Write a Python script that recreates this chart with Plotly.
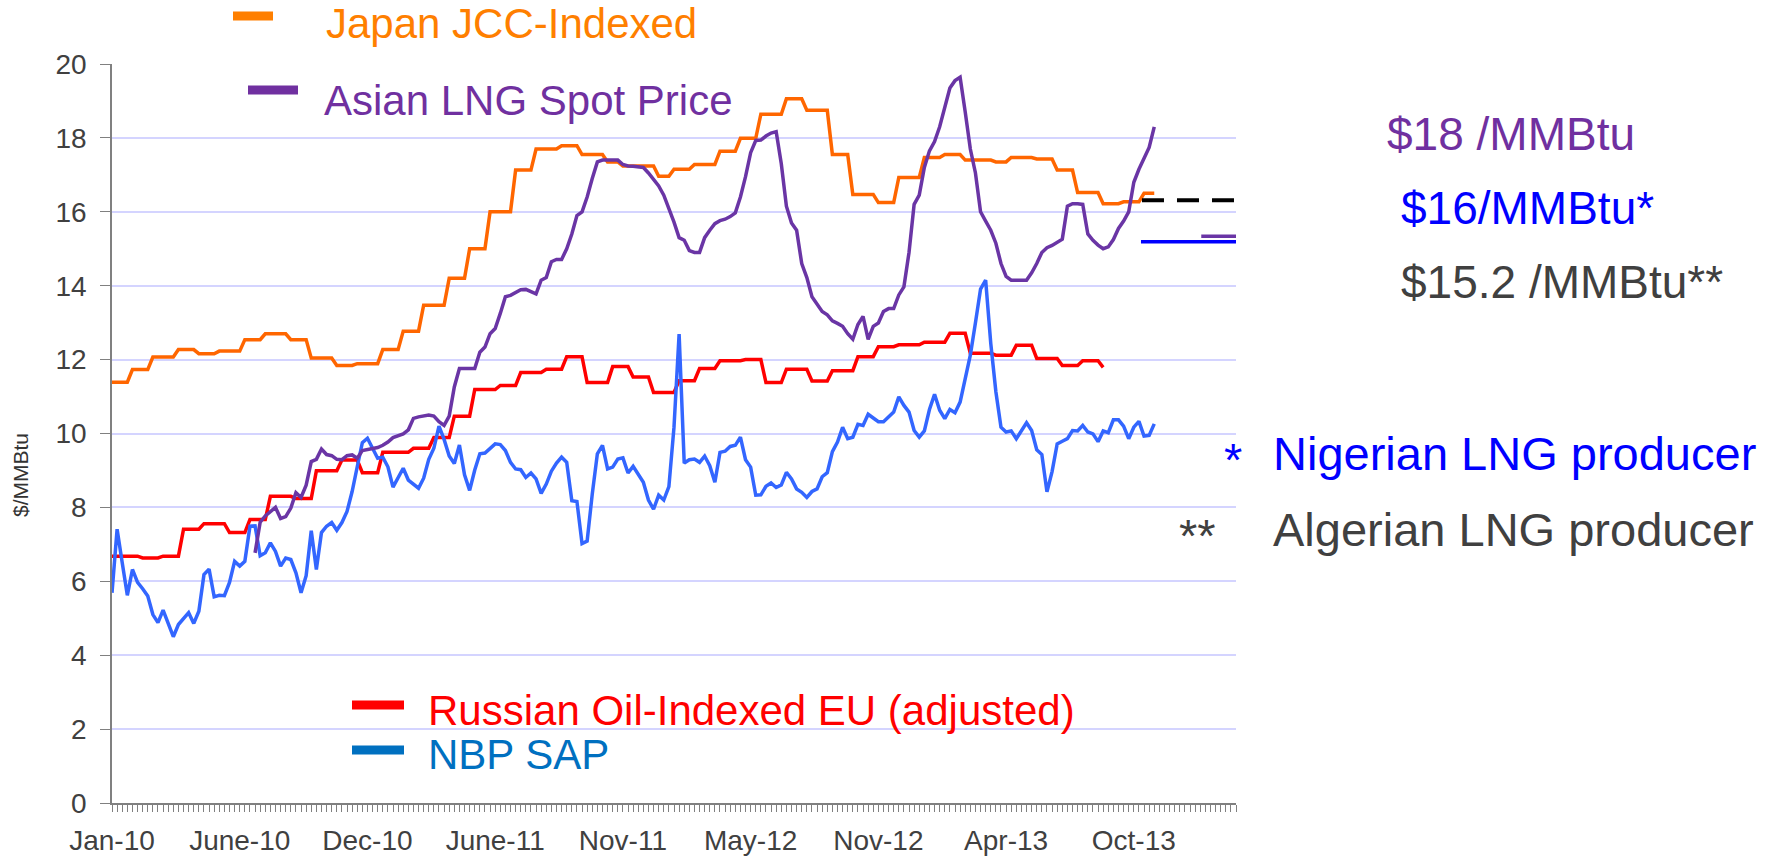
import plotly.graph_objects as go

# ---------------- data (weekly categories, index 0 = Jan-10) ----------------
tick_labels = ["Jan-10", "June-10", "Dec-10", "June-11", "Nov-11",
               "May-12", "Nov-12", "Apr-13", "Oct-13"]
label_every = 25
n_categories = 221

japan_jcc = [
    11.39, 11.39, 11.39, 11.39, 11.73, 11.73, 11.73, 11.73,
    12.07, 12.07, 12.07, 12.07, 12.07, 12.27, 12.27, 12.27, 12.27,
    12.16, 12.16, 12.16, 12.16, 12.23, 12.23, 12.23, 12.23, 12.23,
    12.54, 12.54, 12.54, 12.54, 12.70, 12.70, 12.70, 12.70, 12.70,
    12.54, 12.54, 12.54, 12.54, 12.04, 12.04, 12.04, 12.04, 12.04,
    11.84, 11.84, 11.84, 11.84, 11.89, 11.89, 11.89, 11.89, 11.89,
    12.27, 12.27, 12.27, 12.27, 12.77, 12.77, 12.77, 12.77,
    13.47, 13.47, 13.47, 13.47, 13.47, 14.20, 14.20, 14.20, 14.20,
    15.00, 15.00, 15.00, 15.00, 16.00, 16.00, 16.00, 16.00, 16.00,
    17.13, 17.13, 17.13, 17.13, 17.70, 17.70, 17.70, 17.70, 17.70,
    17.79, 17.79, 17.79, 17.79, 17.55, 17.55, 17.55, 17.55, 17.55,
    17.35, 17.35, 17.35, 17.24, 17.24, 17.24, 17.24, 17.24, 17.24, 17.24,
    16.96, 16.96, 16.96, 17.15, 17.15, 17.15, 17.15,
    17.28, 17.28, 17.28, 17.28, 17.28, 17.64, 17.64, 17.64, 17.64,
    17.99, 17.99, 17.99, 17.99, 18.64, 18.64, 18.64, 18.64, 18.64,
    19.06, 19.06, 19.06, 19.06, 18.75, 18.75, 18.75, 18.75, 18.75,
    17.55, 17.55, 17.55, 17.55, 16.47, 16.47, 16.47, 16.47, 16.47,
    16.25, 16.25, 16.25, 16.25, 16.93, 16.93, 16.93, 16.93, 16.93,
    17.47, 17.47, 17.47, 17.47, 17.55, 17.55, 17.55, 17.55,
    17.40, 17.40, 17.40, 17.40, 17.40, 17.40, 17.35, 17.35, 17.35,
    17.47, 17.47, 17.47, 17.47, 17.47, 17.43, 17.43, 17.43, 17.43,
    17.13, 17.13, 17.13, 17.13, 16.52, 16.52, 16.52, 16.52, 16.52,
    16.22, 16.22, 16.22, 16.22, 16.27, 16.27, 16.27, 16.27,
    16.50, 16.50, 16.50,
]

asian_start = 28
asian_spot = [
    6.77, 7.60, 7.77, 7.90, 8.00, 7.70, 7.75, 7.98, 8.40, 8.27,
    8.60, 9.24, 9.30, 9.58, 9.43, 9.40, 9.30, 9.29, 9.40, 9.42,
    9.33, 9.54, 9.57, 9.59, 9.62, 9.68, 9.77, 9.89, 9.95, 9.99,
    10.10, 10.41, 10.45, 10.48, 10.50, 10.47, 10.32, 10.22, 10.47, 11.26,
    11.76, 11.76, 11.76, 11.76, 12.20, 12.34, 12.70, 12.84, 13.25, 13.70,
    13.74, 13.82, 13.89, 13.90, 13.85, 13.78, 14.15, 14.22, 14.65, 14.71,
    14.71, 15.00, 15.40, 15.90, 16.00, 16.40, 16.90, 17.35, 17.40, 17.40,
    17.40, 17.40, 17.28, 17.24, 17.23, 17.22, 17.20, 17.05, 16.88, 16.70,
    16.45, 16.10, 15.72, 15.30, 15.23, 14.95, 14.90, 14.90, 15.30, 15.50,
    15.68, 15.76, 15.80, 15.87, 15.97, 16.40, 16.95, 17.60, 17.93, 17.94,
    18.05, 18.13, 18.17, 17.30, 16.15, 15.70, 15.50, 14.60, 14.22, 13.70,
    13.48, 13.30, 13.21, 13.05, 12.98, 12.90, 12.70, 12.55, 12.95, 13.17,
    12.55, 12.90, 12.99, 13.30, 13.38, 13.38, 13.75, 13.97, 14.90, 16.20,
    16.45, 17.20, 17.65, 17.90, 18.30, 18.80, 19.35, 19.55, 19.64, 18.70,
    17.70, 17.05, 16.00, 15.75, 15.50, 15.15, 14.60, 14.25, 14.15, 14.15,
    14.15, 14.15, 14.35, 14.60, 14.90, 15.03, 15.09, 15.18, 15.26, 16.15,
    16.22, 16.22, 16.20, 15.40, 15.23, 15.10, 15.00, 15.05, 15.25, 15.55,
    15.75, 16.00, 16.80, 17.15, 17.45, 17.74, 18.30,
]

russian_oil_indexed = [
    6.68, 6.68, 6.68, 6.68, 6.68, 6.68, 6.63, 6.63, 6.63, 6.63,
    6.68, 6.68, 6.68, 6.68, 7.41, 7.41, 7.41, 7.41,
    7.56, 7.56, 7.56, 7.56, 7.56, 7.32, 7.32, 7.32, 7.32,
    7.67, 7.67, 7.67, 7.67, 8.30, 8.30, 8.30, 8.30, 8.30,
    8.24, 8.24, 8.24, 8.24, 8.99, 8.99, 8.99, 8.99, 8.99,
    9.28, 9.28, 9.28, 9.28, 8.94, 8.94, 8.94, 8.94,
    9.49, 9.49, 9.49, 9.49, 9.49, 9.49, 9.60, 9.60, 9.60, 9.60,
    9.89, 9.89, 9.89, 9.89, 10.47, 10.47, 10.47, 10.47,
    11.19, 11.19, 11.19, 11.19, 11.19, 11.30, 11.30, 11.30, 11.30,
    11.65, 11.65, 11.65, 11.65, 11.65, 11.74, 11.74, 11.74, 11.74,
    12.08, 12.08, 12.08, 12.08, 11.38, 11.38, 11.38, 11.38, 11.38,
    11.81, 11.81, 11.81, 11.81, 11.53, 11.53, 11.53, 11.53,
    11.11, 11.11, 11.11, 11.11, 11.11, 11.43, 11.43, 11.43, 11.43,
    11.76, 11.76, 11.76, 11.76, 11.97, 11.97, 11.97, 11.97, 11.97,
    12.00, 12.00, 12.00, 12.00, 11.38, 11.38, 11.38, 11.38,
    11.74, 11.74, 11.74, 11.74, 11.74, 11.42, 11.42, 11.42, 11.42,
    11.70, 11.70, 11.70, 11.70, 11.70, 12.08, 12.08, 12.08, 12.08,
    12.35, 12.35, 12.35, 12.35, 12.40, 12.40, 12.40, 12.40, 12.40,
    12.47, 12.47, 12.47, 12.47, 12.47, 12.71, 12.71, 12.71, 12.71,
    12.17, 12.17, 12.17, 12.17, 12.17, 12.12, 12.12, 12.12, 12.12,
    12.39, 12.39, 12.39, 12.39, 12.03, 12.03, 12.03, 12.03, 12.03,
    11.84, 11.84, 11.84, 11.84, 11.97, 11.97, 11.97, 11.97, 11.79,
]

nbp_sap = [
    5.69, 7.41, 6.50, 5.62, 6.32, 5.97, 5.80, 5.60, 5.10, 4.88,
    5.22, 4.83, 4.50, 4.83, 4.99, 5.15, 4.86, 5.19, 6.18, 6.33,
    5.58, 5.62, 5.61, 5.97, 6.54, 6.41, 6.54, 7.49, 7.50, 6.69,
    6.77, 7.04, 6.81, 6.41, 6.63, 6.59, 6.23, 5.69, 6.15, 7.37,
    6.32, 7.32, 7.49, 7.59, 7.38, 7.59, 7.89, 8.43, 9.10, 9.75,
    9.87, 9.60, 9.33, 9.36, 9.10, 8.55, 8.82, 9.06, 8.74, 8.63,
    8.52, 8.79, 9.30, 9.60, 10.20, 9.84, 9.39, 9.19, 9.69, 8.88,
    8.46, 9.01, 9.45, 9.47, 9.60, 9.72, 9.70, 9.54, 9.22, 9.04,
    9.02, 8.81, 8.93, 8.77, 8.38, 8.63, 8.98, 9.20, 9.36, 9.22,
    8.18, 8.16, 7.02, 7.09, 8.36, 9.45, 9.68, 9.04, 9.09, 9.31,
    9.34, 8.93, 9.11, 8.90, 8.68, 8.20, 7.95, 8.33, 8.20, 8.56,
    10.17, 12.69, 9.20, 9.29, 9.31, 9.22, 9.39, 9.13, 8.68, 9.49,
    9.52, 9.65, 9.68, 9.90, 9.29, 9.09, 8.33, 8.34, 8.57, 8.66,
    8.54, 8.61, 8.95, 8.77, 8.50, 8.41, 8.27, 8.43, 8.50, 8.83,
    8.94, 9.51, 9.77, 10.17, 9.86, 9.90, 10.25, 10.22, 10.52, 10.42,
    10.32, 10.32, 10.45, 10.58, 10.99, 10.76, 10.58, 10.08, 9.90, 10.07,
    10.65, 11.06, 10.63, 10.40, 10.65, 10.56, 10.85, 11.49, 12.12, 13.00,
    13.91, 14.15, 12.44, 11.13, 10.17, 10.04, 10.07, 9.86, 10.08, 10.29,
    10.08, 9.56, 9.43, 8.42, 8.97, 9.72, 9.79, 9.86, 10.08, 10.07,
    10.22, 10.04, 9.99, 9.78, 10.07, 10.02, 10.37, 10.37, 10.20, 9.86,
    10.17, 10.33, 9.93, 9.95, 10.26,
]

# producer reference levels ($/MMBtu) and the week where each marker line starts
ref_levels = [16.31, 15.19, 15.34]
ref_start_week = [201.6, 201.4, 213.2]
ref_colors = ["#000000", "#0000FF", "#6A35A5"]
ref_dash = ["22px,13px", "solid", "solid"]

# ---------------- figure ----------------
FONT = "Liberation Sans, Arial, sans-serif"
L, R, T, B = 112, 547, 64, 53
W, H = 1783, 856
PW, PH = W - L - R, H - T - B


def px(x):
    return (x - L) / PW


def py(y):
    return (H - B - y) / PH


fig = go.Figure()

x_all = list(range(n_categories))
x_end = x_all[-1]

fig.add_trace(go.Scatter(x=x_all[:len(russian_oil_indexed)], y=russian_oil_indexed,
                         mode="lines", line=dict(color="#FF0000", width=3.5), hoverinfo="skip"))
fig.add_trace(go.Scatter(x=x_all[:len(nbp_sap)], y=nbp_sap,
                         mode="lines", line=dict(color="#3366FF", width=3.5), hoverinfo="skip"))
fig.add_trace(go.Scatter(x=x_all[:len(japan_jcc)], y=japan_jcc,
                         mode="lines", line=dict(color="#FF6600", width=3.5), hoverinfo="skip"))
fig.add_trace(go.Scatter(x=x_all[asian_start:asian_start + len(asian_spot)], y=asian_spot,
                         mode="lines", line=dict(color="#6A35A5", width=3.5), hoverinfo="skip"))

for lvl, xs, col, dsh in zip(ref_levels, ref_start_week, ref_colors, ref_dash):
    fig.add_trace(go.Scatter(x=[xs, x_end], y=[lvl, lvl], mode="lines",
                             line=dict(color=col, width=4 if dsh != "solid" else 3.5, dash=dsh),
                             hoverinfo="skip"))

# legend-style bars and labels (placed as in the original slide)
legend_items = [
    ("Japan JCC-Indexed", "#FF7F00", 233, 273, 16, 324, 24),
    ("Asian LNG Spot Price", "#7030A0", 248, 298, 90, 322, 100),
    ("Russian Oil-Indexed EU (adjusted)", "#FF0000", 352, 404, 705, 426, 710),
    ("NBP SAP", "#0070C0", 352, 404, 750, 426, 754),
]
for text, col, bx0, bx1, by, tx, ty in legend_items:
    fig.add_shape(type="line", xref="paper", yref="paper",
                  x0=px(bx0), x1=px(bx1), y0=py(by), y1=py(by),
                  line=dict(color=col, width=9))
    fig.add_annotation(text=text, xref="paper", yref="paper", x=px(tx), y=py(ty),
                       xanchor="left", yanchor="middle", showarrow=False,
                       font=dict(family=FONT, size=42, color=col))

side_texts = [
    ("$18 /MMBtu", "#7030A0", 1385, 134, 46),
    ("$16/MMBtu*", "#0000FF", 1399, 208, 46),
    ("$15.2 /MMBtu**", "#404040", 1399, 282, 46),
    ("*", "#0000FF", 1222, 459, 47),
    ("Nigerian LNG producer", "#0000FF", 1271, 453, 47),
    ("**", "#404040", 1177, 535, 47),
    ("Algerian LNG producer", "#404040", 1271, 529, 47),
]
for text, col, tx, ty, fs in side_texts:
    fig.add_annotation(text=text, xref="paper", yref="paper", x=px(tx), y=py(ty),
                       xanchor="left", yanchor="middle", showarrow=False,
                       font=dict(family=FONT, size=fs, color=col))

fig.add_annotation(text="$/MMBtu", xref="paper", yref="paper", x=px(20), y=py(475),
                   xanchor="center", yanchor="middle", textangle=-90, showarrow=False,
                   font=dict(family=FONT, size=21, color="#333333"))

fig.update_layout(
    width=W, height=H, autosize=False,
    margin=dict(l=L, r=R, t=T, b=B, pad=0, autoexpand=False),
    paper_bgcolor="white", plot_bgcolor="white",
    showlegend=False,
    font=dict(family=FONT, color="#404040"),
    xaxis=dict(
        range=[0, x_end],
        automargin=False,
        tickmode="array",
        tickvals=[i * label_every for i in range(len(tick_labels))],
        ticktext=tick_labels,
        ticks="outside", ticklen=7, tickwidth=1, tickcolor="#808080",
        minor=dict(tickmode="linear", tick0=0, dtick=1, ticks="outside",
                   ticklen=7, tickwidth=1, tickcolor="#808080", showgrid=False),
        showline=True, linecolor="#808080", linewidth=1.5,
        showgrid=False, zeroline=False,
        tickfont=dict(family=FONT, size=28, color="#404040"),
        ticklabelstandoff=5,
    ),
    yaxis=dict(
        range=[0, 20], dtick=2, tick0=0,
        automargin=False,
        ticks="outside", ticklen=10, tickwidth=1, tickcolor="#808080",
        showline=True, linecolor="#808080", linewidth=1.5,
        showgrid=True, gridcolor="#D4D4FF", gridwidth=1.5,
        zeroline=False,
        tickfont=dict(family=FONT, size=28, color="#404040"),
        ticklabelstandoff=8,
    ),
)

fig.write_html("out.html", config={"displayModeBar": False},
               post_script="document.body.style.margin='0';")
